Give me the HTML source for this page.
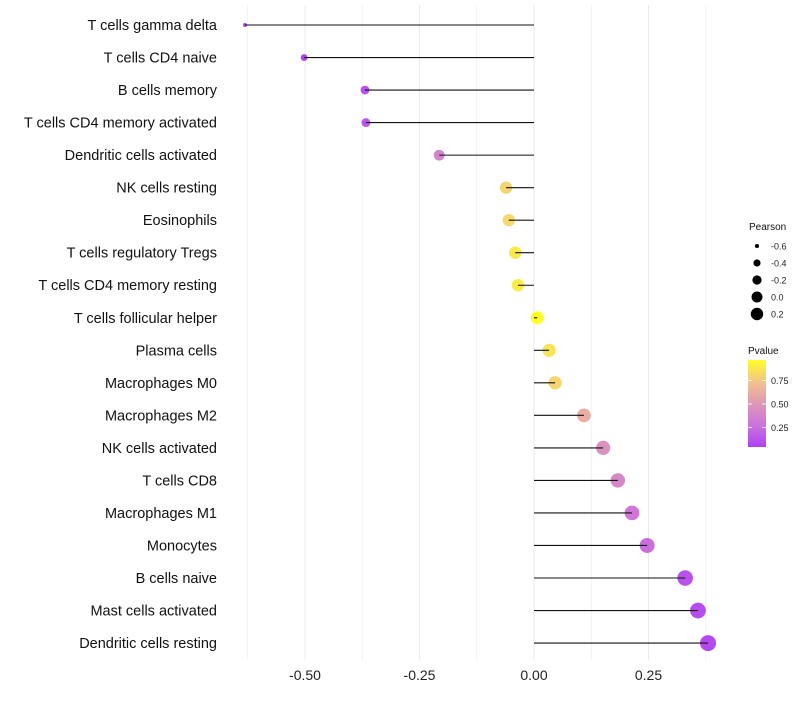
<!DOCTYPE html>
<html><head><meta charset="utf-8"><style>
body{margin:0;background:#fff;font-family:"Liberation Sans",sans-serif}
</style></head><body>
<svg id="c" width="800" height="700" xmlns="http://www.w3.org/2000/svg"></svg>
<script>
const categories=["T cells gamma delta","T cells CD4 naive","B cells memory","T cells CD4 memory activated","Dendritic cells activated","NK cells resting","Eosinophils","T cells regulatory  Tregs ","T cells CD4 memory resting","T cells follicular helper","Plasma cells","Macrophages M0","Macrophages M2","NK cells activated","T cells CD8","Macrophages M1","Monocytes","B cells naive","Mast cells activated","Dendritic cells resting"];
const pearson=[-0.631,-0.502,-0.369,-0.367,-0.207,-0.061,-0.055,-0.041,-0.035,0.007,0.033,0.046,0.109,0.151,0.183,0.214,0.247,0.330,0.358,0.380];
const pvalue=[0.04,0.06,0.12,0.14,0.38,0.80,0.82,0.88,0.90,0.97,0.86,0.80,0.62,0.46,0.40,0.30,0.25,0.12,0.10,0.08];
const xTicks=[-0.5,-0.25,0,0.25];
const xTickLabels=["-0.50","-0.25","0.00","0.25"];
const sizeLegend=[-0.6,-0.4,-0.2,0.0,0.2];
const colorLegend=[0.25,0.50,0.75];
const NS="http://www.w3.org/2000/svg";
const svg=document.getElementById('c');
const x=v=>534+v*458;
const y=i=>25+i*32.53;
const pMin=0.04,pMax=0.97;
const stops=[[160,32,240],[195,90,215],[215,135,170],[240,185,120],[255,255,0]];
function col(p){let t=Math.max(0,Math.min(1,(p-pMin)/(pMax-pMin)))*(stops.length-1);let i=Math.min(Math.floor(t),stops.length-2),f=t-i;const c=stops[i].map((v,k)=>Math.round(v+(stops[i+1][k]-v)*f));return `rgb(${c})`;}
const rad=v=>Math.sqrt(4+60*(v+0.631)/1.011);
function el(t,a,txt){const e=document.createElementNS(NS,t);for(const k in a)e.setAttribute(k,a[k]);if(txt!==undefined)e.textContent=txt;svg.appendChild(e);return e;}
for(let v=-0.625;v<=0.376;v+=0.125){const g=el('line',{x1:x(v),x2:x(v),y1:5,y2:660,stroke:'#ebebeb','stroke-width':Math.abs((v*4)%1)<1e-6?1:0.6});

}
xTicks.forEach((v,i)=>{const t=el('text',{x:x(v),y:680,'text-anchor':'middle','font-size':14,fill:'#222'},xTickLabels[i]);

});
categories.forEach((c,i)=>{
const t=el('text',{x:217,y:y(i)+5,'text-anchor':'end','font-size':14.5,fill:'#111','xml:space':'preserve'},c);


const d=el('circle',{cx:x(pearson[i]),cy:y(i),r:rad(pearson[i]),fill:col(pvalue[i]),'fill-opacity':0.85});


const l=el('line',{x1:x(0),x2:x(pearson[i]),y1:y(i),y2:y(i),stroke:'#111','stroke-width':1.1});


});
const lt=el('text',{x:749,y:230,'font-size':10,fill:'#111'},'Pearson');


sizeLegend.forEach((v,i)=>{const cy=246+i*17;
const c=el('circle',{cx:757,cy:cy,r:rad(v)*0.85,fill:'#000'});


const t=el('text',{x:771,y:cy+3.5,'font-size':9,fill:'#222'},v.toFixed(1));

});
const defs=el('defs',{});const g=document.createElementNS(NS,'linearGradient');g.setAttribute('id','pg');g.setAttribute('x1',0);g.setAttribute('y1',1);g.setAttribute('x2',0);g.setAttribute('y2',0);
stops.forEach((s,i)=>{const st=document.createElementNS(NS,'stop');st.setAttribute('offset',i/(stops.length-1));st.setAttribute('stop-color',`rgb(${s})`);g.appendChild(st);});defs.appendChild(g);
const ct=el('text',{x:748,y:354,'font-size':10,fill:'#111'},'Pvalue');


const bar=el('rect',{x:748,y:360,width:18,height:87,fill:'url(#pg)','fill-opacity':0.85});


const cy=p=>447-(p-pMin)/(pMax-pMin)*87;
colorLegend.forEach(p=>{
el('line',{x1:748,x2:752,y1:cy(p),y2:cy(p),stroke:'#fff','stroke-width':0.8});
el('line',{x1:762,x2:766,y1:cy(p),y2:cy(p),stroke:'#fff','stroke-width':0.8});
const t=el('text',{x:771,y:cy(p)+3.5,'font-size':9,fill:'#222'},p.toFixed(2));

});
</script>
</body></html>
